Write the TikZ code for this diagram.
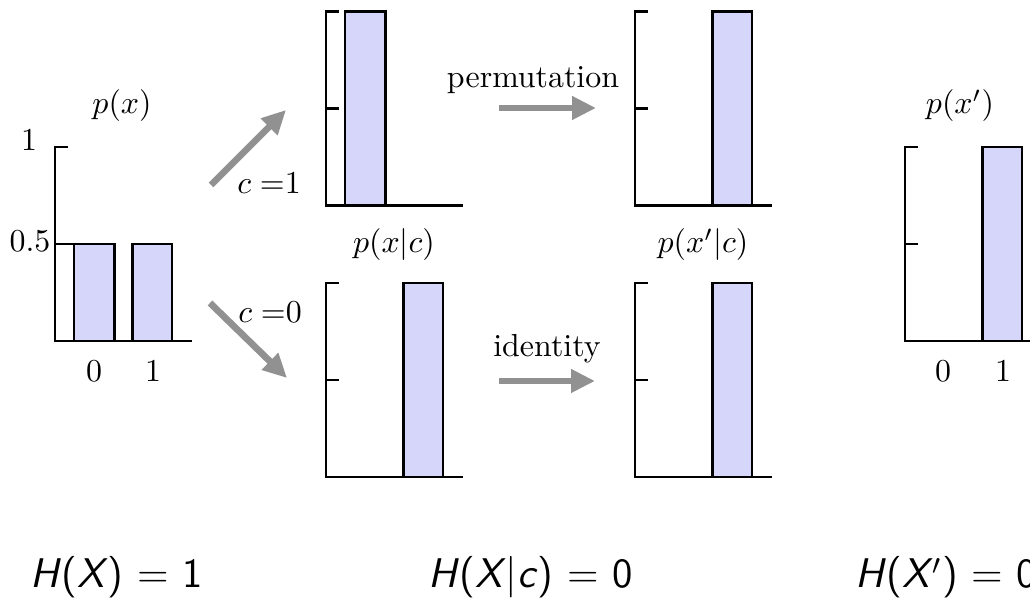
\documentclass[tikz,border=0pt]{standalone}
\usepackage{fontspec}
\usetikzlibrary{arrows.meta}
\definecolor{barfill}{RGB}{214,214,250}
\definecolor{arrowgray}{RGB}{145,145,145}
\tikzset{
  axisline/.style={line width=0.85pt, black},
  barbox/.style={draw=black, line width=0.85pt, fill=barfill},
  maparrow/.style={draw=arrowgray, line width=2.1pt, -{Triangle[length=7.5pt,width=7pt]}},
  lbl/.style={inner sep=0pt, font=\fontsize{10}{12}\selectfont},
  entropy/.style={inner sep=0pt, anchor=base west, font=\fontsize{13}{15}\selectfont\sffamily},
}
% axes: #1 = x of axis, #2 = y of top, #3 = length of middle tick
\newcommand\chartaxes[3]{%
  \draw[axisline] (#1+13,#2) -- (#1,#2) -- (#1,#2+194) -- (#1+136.5,#2+194);
  \draw[axisline] (#1,#2+97) -- (#1+#3,#2+97);
}
% bars: #1 = x of axis, #2 = y of top, #3 = height
\newcommand\barzero[3]{\draw[barbox] (#1+19,#2+194) rectangle (#1+59.5,#2+194-#3);}
\newcommand\barone[3]{\draw[barbox] (#1+77.5,#2+194) rectangle (#1+117,#2+194-#3);}
\begin{document}
\begin{tikzpicture}[x=0.3135pt,y=-0.3135pt]
\useasboundingbox (0,0) rectangle (1030,601);
\clip (0,0) rectangle (1030,601);

% chart p(x)
\chartaxes{55}{147}{19}
\barzero{55}{147}{97}
\barone{55}{147}{97}
\node[lbl] (px) at (122,106) {$p(x)$};
\node[lbl] (ya1) at (29,140) {1};
\node[lbl] (ya5) at (30,241) {0.5};
\node[lbl] (xa0) at (94,371) {0};
\node[lbl] (xa1) at (153,371) {1};

% chart p(x|c=1)
\chartaxes{326}{11.7}{13}
\barzero{326}{11.7}{194}
% chart p(x'|c=1)
\chartaxes{635}{11.7}{13}
\barone{635}{11.7}{194}
% chart p(x|c=0)
\chartaxes{326}{283}{13}
\barone{326}{283}{194}
% chart p(x'|c=0)
\chartaxes{635}{283}{13}
\barone{635}{283}{194}
\node[lbl] (pxc) at (394,245) {$p(x|c)$};
\node[lbl] (pxpc) at (703,245) {$p(x'|c)$};

% chart p(x')
\chartaxes{905}{147}{13}
\barone{905}{147}{194}
\node[lbl] (pxp) at (960,106) {$p(x')$};
\node[lbl] (xb0) at (943,371) {0};
\node[lbl] (xb1) at (1003,371) {1};

% arrows
\coordinate (u1) at (211,185);
\coordinate (u2) at (286,110);
\coordinate (d1) at (210,303);
\coordinate (d2) at (287,378);
\coordinate (p1) at (499,108);
\coordinate (p2) at (596,108);
\coordinate (i1) at (499,381);
\coordinate (i2) at (595,381);
\draw[maparrow] (u1) -- (u2);
\draw[maparrow] (d1) -- (d2);
\draw[maparrow] (p1) -- (p2);
\draw[maparrow] (i1) -- (i2);
\node[lbl] (c1) at (269,183) {$c=$1};
\node[lbl] (c0) at (270,312) {$c=$0};
\node[lbl] (perm) at (533,80) {permutation};
\node[lbl] (ident) at (547,349) {identity};

% entropies
\node[entropy] (hx) at (30,588) {\textit{H}(\textit{X}) = 1};
\node[entropy] (hxc) at (428,588) {\textit{H}(\textit{X}|\textit{c}) = 0};
\node[entropy] (hxp) at (855,588) {\textit{H}(\textit{X}$'$) = 0};
\end{tikzpicture}
\end{document}
